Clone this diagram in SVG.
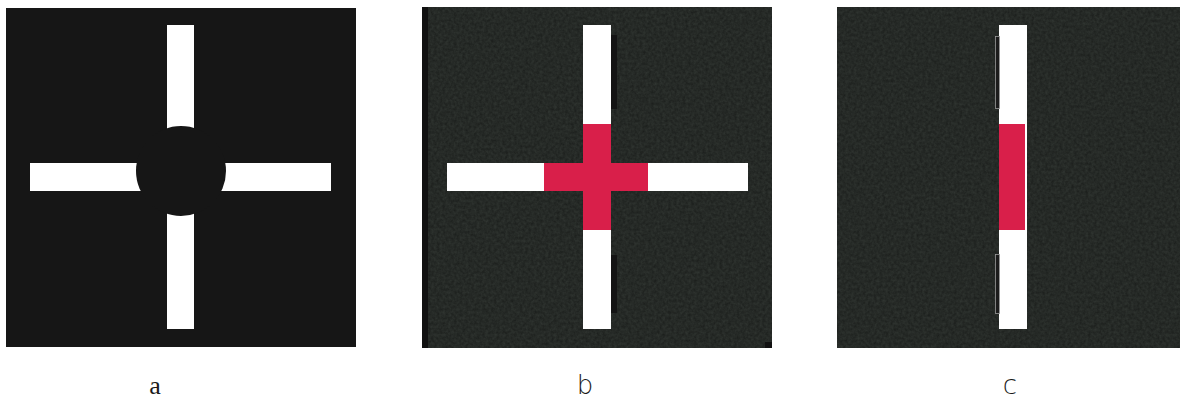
<svg xmlns="http://www.w3.org/2000/svg" width="1180" height="400" viewBox="0 0 1180 400">
<style>
.bar{fill:#ffffff}
.red{fill:#d91f4a}
.felt{fill:#2f3430}
.lbl{font-size:26px;fill:#1a1a1a;text-anchor:middle}
.serif{font-family:"Liberation Serif","DejaVu Serif",serif}
.sans{font-family:"DejaVu Sans","Liberation Sans",sans-serif;font-weight:300}
</style>
<defs>
<filter id="noise" x="0" y="0" width="100%" height="100%">
<feTurbulence type="fractalNoise" baseFrequency="0.35" numOctaves="3" seed="3" result="t"/>
<feColorMatrix in="t" type="matrix" values="0 0 0 0 0  0 0 0 0 0  0 0 0 0 0  0 0 0 0.5 -0.05"/>
</filter>
</defs>
<rect width="1180" height="400" fill="#ffffff"/>
<g id="panel-a">
<rect x="6" y="8" width="350" height="339" fill="#161616"/>
<rect class="bar" x="167" y="25" width="27" height="304"/>
<rect class="bar" x="30" y="163" width="301" height="28"/>
<circle cx="181" cy="171" r="45" fill="#161616"/>
<text class="lbl serif" x="155" y="394">a</text>
</g>
<g id="panel-b">
<rect class="felt" x="422" y="7" width="350" height="341"/>
<rect x="422" y="7" width="350" height="341" filter="url(#noise)"/>
<rect x="422" y="7" width="6" height="341" fill="#111"/>
<rect x="765" y="342" width="7" height="6" fill="#111"/>
<rect class="bar" x="583" y="25" width="28" height="304"/>
<rect class="bar" x="447" y="163" width="301" height="28"/>
<rect class="red" x="583" y="124" width="28" height="106"/>
<rect class="red" x="544" y="163" width="104" height="28"/>
<rect x="611" y="35" width="6" height="74" fill="#141414"/>
<rect x="611" y="255" width="6" height="58" fill="#141414"/>
<text class="lbl sans" x="585" y="394">b</text>
</g>
<g id="panel-c">
<rect class="felt" x="837" y="7" width="343" height="341"/>
<rect x="837" y="7" width="343" height="341" filter="url(#noise)"/>
<rect class="bar" x="999" y="25" width="28" height="304"/>
<rect class="red" x="999" y="124" width="26" height="106"/>
<rect x="995.5" y="36.5" width="4" height="72" fill="#1c1c1c" stroke="#9a9a9a" stroke-width="0.8"/>
<rect x="995.5" y="254.5" width="4" height="59" fill="#1c1c1c" stroke="#9a9a9a" stroke-width="0.8"/>
<text class="lbl sans" x="1010" y="394">c</text>
</g>
<g id="connectors"/>
</svg>
